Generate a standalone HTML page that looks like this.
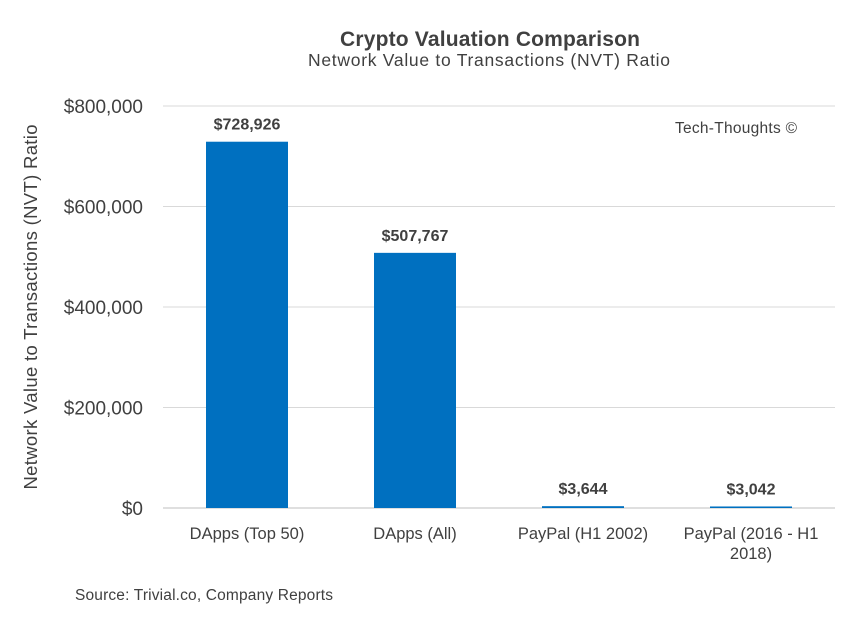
<!DOCTYPE html>
<html><head><meta charset="utf-8"><style>
body{margin:0;background:#fff;font-family:"Liberation Sans",sans-serif;}
svg text{font-family:"Liberation Sans",sans-serif;}
</style></head><body>
<svg width="859" height="614" viewBox="0 0 859 614" id="chart">
<rect width="859" height="614" fill="#fff"/>
<text x="490" y="46" text-anchor="middle" font-size="21" font-weight="bold" fill="#404040" textLength="300">Crypto Valuation Comparison</text>
<text x="489" y="66" text-anchor="middle" font-size="17.5" fill="#404040" textLength="362">Network Value to Transactions (NVT) Ratio</text>
<text x="736" y="133" text-anchor="middle" font-size="15.5" fill="#404040" textLength="122">Tech-Thoughts ©</text>
<text transform="translate(37,307) rotate(-90)" text-anchor="middle" font-size="18.5" fill="#404040" textLength="365">Network Value to Transactions (NVT) Ratio</text>
<text x="75" y="600" font-size="15.5" fill="#404040" textLength="258">Source: Trivial.co, Company Reports</text>
<g id="grid"></g><g id="bars"></g><g id="labels"></g>
</svg>
<script>
const categories=[["DApps (Top 50)"],["DApps (All)"],["PayPal (H1 2002)"],["PayPal (2016 - H1","2018)"]];
const values=[728926,507767,3644,3042];
const valueLabels=["$728,926","$507,767","$3,644","$3,042"];
const yTicks=[0,200000,400000,600000,800000];
const yTickLabels=["$0","$200,000","$400,000","$600,000","$800,000"];
const NS="http://www.w3.org/2000/svg";
const x0=163,x1=835,yb=508,yt=106,ymax=800000;
const y=v=>yb-(v/ymax)*(yb-yt);
const bw=(x1-x0)/categories.length;
const xc=i=>x0+bw*(i+0.5);
function mk(t,a,p){const e=document.createElementNS(NS,t);for(const k in a)e.setAttribute(k,a[k]);p.appendChild(e);return e;}
const g=document.getElementById('grid'),b=document.getElementById('bars'),l=document.getElementById('labels');
yTicks.forEach((t,i)=>{
 const ln=mk('line',{x1:x0,x2:x1,y1:y(t),y2:y(t),stroke:i==0?'#bfbfbf':'#d9d9d9','stroke-width':1},g);
 
 
 const tx=mk('text',{x:143,y:y(t)+7,'text-anchor':'end','font-size':19,fill:'#404040'},g);
 tx.textContent=yTickLabels[i];
 
 
});
values.forEach((v,i)=>{
 const r=mk('rect',{x:xc(i)-41,y:y(v),width:82,height:yb-y(v),fill:'#0070c0'},b);
 
 
 const vl=mk('text',{x:xc(i),y:y(v)-12,'text-anchor':'middle','font-size':16,'font-weight':'bold',fill:'#404040'},l);
 vl.textContent=valueLabels[i];
 
 
 categories[i].forEach((s,j)=>{
  const c=mk('text',{x:xc(i),y:539+j*20,'text-anchor':'middle','font-size':16.5,fill:'#404040'},l);
  c.textContent=s;
  
  
 });
});
</script>
</body></html>
